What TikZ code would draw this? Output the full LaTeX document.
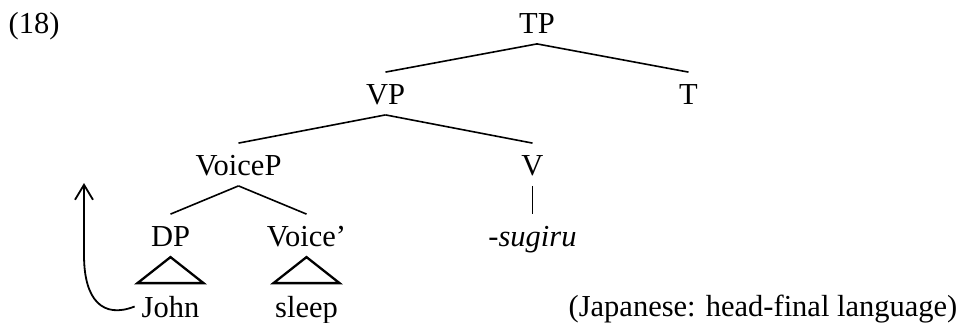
\documentclass[tikz,border=0pt]{standalone}
\usepackage{fontspec}
\setmainfont{Liberation Serif}
\usetikzlibrary{arrows.meta}

\begin{document}
\begin{tikzpicture}[level distance = 40.75pt,
    every node/.style = {anchor = base, inner ysep = 0pt, text height = 15.75pt, text depth = 5.25pt,
        font = \fontsize{15.25pt}{18pt}\selectfont},
    parent anchor = south, child anchor = north,
    edge from parent/.style = {draw, line width = 0.8pt},
    level 1/.style = {sibling distance = 151.5pt},
    level 2/.style = {sibling distance = 147pt},
    level 3/.style = {sibling distance = 68pt},
    level 4/.style = {edge from parent/.style = {draw, line width = 1.15pt},
        edge from parent path = {([yshift = 14pt]\tikzchildnode.north) -- ++(-16.5pt,-13pt) -- ++(33pt,0pt) -- cycle}}]
    \useasboundingbox (0pt,0pt) rectangle (481.5pt,-161pt);
    \node (ex) at (17pt,-16.5pt) {(18)};
        \node (tp) at (268.5pt,-16.5pt) {TP}
            child{ node (vp) {VP}
                child{ node (voicep) {VoiceP}
                    child{ node (dp) {DP}
                        child{ node (john) {John} } }
                    child{ node (voicebar) {Voice'}
                        child{ node (sleep) {sleep} } } }
                child{ node (v) {V}
                    child{ node (sugiru) {-\textit{sugiru}} } } }
            child{ node (t) {T} };
    \node (note) at (381.5pt,-158pt) {(Japanese: head-final language)};
    % movement of the subject
    \coordinate (bend) at (42pt,-127.5pt);
    \coordinate (rise) at (42pt,-91.5pt);
    \draw[line width = 0.9pt, -{Straight Barb[length = 7.5pt, width = 9pt]}]
        (john.west) .. controls +(-16pt,-6.25pt) and +(0pt,-22.5pt) .. (bend) -- (rise);
\end{tikzpicture}
\end{document}
